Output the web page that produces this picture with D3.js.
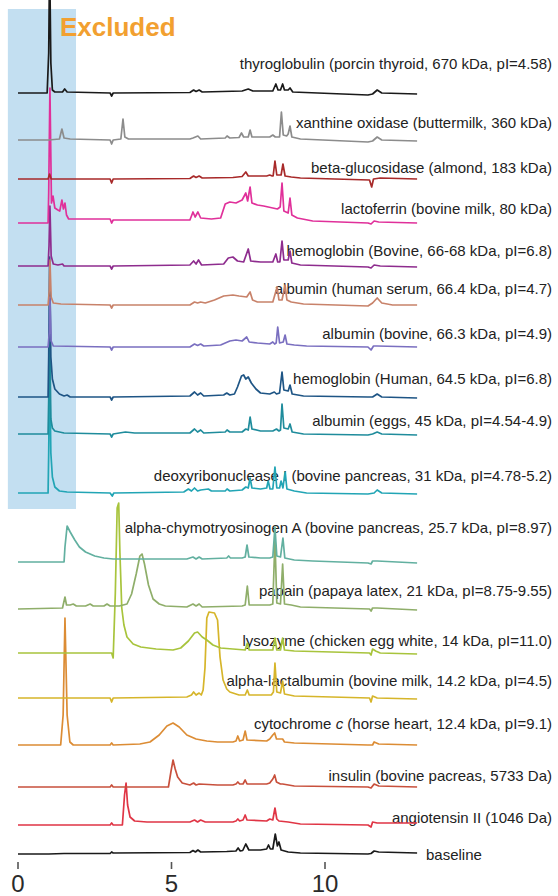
<!DOCTYPE html>
<html><head><meta charset="utf-8">
<script src="https://cdn.jsdelivr.net/npm/d3@7"></script>
<style>html,body{margin:0;padding:0;background:#fff;} svg{display:block;}</style>
</head><body>
<svg id="c" width="558" height="896"></svg>
<script>
// ---------------- DATA ----------------
const names = [
  "thyroglobulin (porcin thyroid, 670 kDa, pI=4.58)",
  "xanthine oxidase (buttermilk, 360 kDa)",
  "beta-glucosidase (almond, 183 kDa)",
  "lactoferrin (bovine milk, 80 kDa)",
  "hemoglobin (Bovine, 66-68 kDa, pI=6.8)",
  "albumin (human serum, 66.4 kDa, pI=4.7)",
  "albumin (bovine, 66.3 kDa, pI=4.9)",
  "hemoglobin (Human, 64.5 kDa, pI=6.8)",
  "albumin (eggs, 45 kDa, pI=4.54-4.9)",
  "deoxyribonuclease I (bovine pancreas, 31 kDa, pI=4.78-5.2)",
  "alpha-chymotryosinogen A (bovine pancreas, 25.7 kDa, pI=8.97)",
  "papain (papaya latex, 21 kDa, pI=8.75-9.55)",
  "lysozyme (chicken egg white, 14 kDa, pI=11.0)",
  "alpha-lactalbumin (bovine milk, 14.2 kDa, pI=4.5)",
  "cytochrome c (horse heart, 12.4 kDa, pI=9.1)",
  "insulin (bovine pacreas, 5733 Da)",
  "angiotensin II (1046 Da)",
  "baseline"
];
// vertical stacking offset of each chromatogram (signal units)
const offsets = [761, 714, 675, 631, 588, 549, 507, 457, 420, 361, 292, 245, 201, 156, 109, 67, 29, 0];

// each chromatogram: [retention time, signal]
const thyroglobulin = [[0,0],[0.95,0],[1.0,40],[1.03,135],[1.07,30],[1.12,3],[1.2,1],[1.45,1],[1.52,4],[1.6,1],[3.0,0],[3.05,-3],[3.1,0],[5.6,0.5],[5.72,3],[5.8,1.5],[5.9,3],[6.0,1],[7.3,2],[7.5,4],[7.65,2],[8.3,2],[8.4,9],[8.47,3],[8.55,3],[8.62,9],[8.68,3],[8.8,3],[8.86,5],[8.95,1],[11.4,-2],[11.55,-1],[11.7,3],[11.85,0],[13,-1]];
const xanthineOxidase = [[0,0],[1.0,0],[1.35,1],[1.43,11],[1.5,2],[1.7,1],[3.0,0],[3.05,-4],[3.1,0],[3.35,1],[3.42,21],[3.48,3],[3.6,1],[5.6,1],[5.7,2],[5.86,4],[5.95,1],[6.75,2],[6.81,4],[6.9,2],[7.2,2.5],[7.28,7],[7.35,3],[7.5,3],[7.56,10],[7.62,3],[8.2,3],[8.3,5],[8.38,3],[8.52,3],[8.58,28],[8.64,5],[8.75,4],[8.8,6],[8.86,14],[8.92,3],[9.2,1],[11.4,-2],[11.55,-1],[11.7,3],[11.85,0],[13,-1]];
const betaGlucosidase = [[0,0],[0.98,0],[1.03,5],[1.08,0],[3.0,0],[3.05,-4],[3.1,0],[5.6,0.5],[5.72,3],[5.8,1.5],[5.9,3],[6.0,1],[7.0,1.5],[7.3,2.5],[7.42,7],[7.5,3],[8.1,3],[8.2,4],[8.28,3],[8.31,3],[8.37,18],[8.43,4],[8.57,4],[8.63,15],[8.7,3],[8.9,2],[9.2,1],[11.45,-1],[11.52,-8],[11.58,0],[11.8,1],[13,0]];
const lactoferrin = [[0,0],[0.98,0],[1.0,30],[1.04,135],[1.09,20],[1.14,27],[1.2,15],[1.3,13],[1.36,12],[1.43,23],[1.48,14],[1.53,20],[1.58,8],[1.65,4],[3.0,4],[3.05,0],[3.1,3],[5.6,3],[5.7,11],[5.77,6],[5.86,11],[5.95,5],[6.3,4],[6.6,5],[6.75,19],[6.9,21],[7.1,20],[7.3,23],[7.42,30],[7.48,22],[7.56,36],[7.62,20],[7.8,18],[8.0,17],[8.3,15],[8.45,14],[8.54,16],[8.6,40],[8.66,12],[8.8,10],[8.86,25],[8.92,8],[9.1,5],[9.6,2],[11.4,0],[11.5,-1],[11.6,2],[11.75,1],[13,0]];
const hemoglobinBovine = [[0,0],[0.98,0],[1.01,20],[1.04,60],[1.08,10],[1.15,2],[1.3,1],[1.45,2],[1.5,0],[3.0,0],[3.05,-3],[3.1,0],[5.6,1],[5.72,5],[5.8,2],[5.88,6],[5.98,1],[6.7,2],[6.85,8],[7.0,9],[7.15,5],[7.35,4],[7.5,17],[7.58,5],[7.9,4],[8.3,4],[8.4,12],[8.46,4],[8.53,4],[8.6,25],[8.66,6],[8.8,6],[8.86,15],[8.92,3],[9.2,1],[11.4,-1],[11.5,-2],[11.6,1],[11.8,0],[13,-1]];
const albuminHuman = [[0,0],[0.98,0],[1.02,15],[1.04,45],[1.08,8],[1.15,2],[1.4,1],[3.0,0],[3.05,-3],[3.1,0],[5.6,0],[5.75,3],[5.85,2],[5.95,3],[6.1,2],[6.4,5],[6.7,9],[7.0,10],[7.2,9],[7.45,8],[7.56,13],[7.64,5],[7.8,3],[8.3,3],[8.44,18],[8.5,5],[8.6,5],[8.7,20],[8.76,5],[8.9,3],[9.3,1],[11.4,-1],[11.55,2],[11.7,7],[11.85,2],[12.2,0],[13,0]];
const albuminBovine = [[0,0],[0.98,0],[1.02,15],[1.04,50],[1.08,6],[1.15,1],[3.0,0],[3.05,-3],[3.1,0],[5.6,0],[5.75,3],[5.85,1.5],[5.95,3],[6.05,1],[6.6,2],[6.9,6],[7.1,7],[7.3,6],[7.45,10],[7.53,5],[7.8,4],[8.2,3],[8.3,5],[8.36,3],[8.41,4],[8.46,20],[8.52,4],[8.64,5],[8.7,12],[8.76,3],[9.0,2],[9.4,1],[11.4,0],[11.5,-3],[11.58,1],[11.7,1],[13,0]];
const hemoglobinHuman = [[0,0],[0.98,0],[1.0,40],[1.03,140],[1.07,40],[1.12,18],[1.2,8],[1.35,3],[1.5,1],[1.6,2],[1.7,0],[3.0,0],[3.05,-3],[3.1,0],[5.6,1],[5.75,5],[5.85,2],[5.95,4],[6.05,1],[6.7,2],[6.8,4],[6.9,2],[7.05,3],[7.15,10],[7.28,21],[7.35,22],[7.42,18],[7.5,20],[7.6,14],[7.75,8],[7.9,4],[8.2,3],[8.35,5],[8.42,3],[8.52,4],[8.6,25],[8.66,7],[8.8,6],[8.86,12],[8.93,3],[9.3,1],[11.4,0],[11.55,0],[11.7,3],[11.85,0],[13,-1]];
const albuminEggs = [[0,0],[0.98,0],[1.0,35],[1.03,110],[1.07,15],[1.12,6],[1.2,3],[1.5,1],[3.0,0],[3.05,-3],[3.1,0],[3.3,1],[3.5,2],[3.8,1],[5.6,1],[5.75,5],[5.85,2],[5.95,4],[6.05,1],[6.75,2],[6.81,4],[6.9,2],[7.3,2],[7.42,5],[7.5,4],[7.56,17],[7.62,5],[7.9,3],[8.3,3],[8.42,5],[8.5,3],[8.55,4],[8.6,30],[8.66,6],[8.8,5],[8.86,10],[8.93,2],[9.3,0],[11.4,-1],[11.55,0],[11.7,2],[11.85,0],[13,-1]];
const deoxyribonuclease = [[0,0],[0.98,0],[1.0,40],[1.03,130],[1.07,40],[1.12,16],[1.2,6],[1.35,2],[1.6,1],[3.0,0],[3.07,-3],[3.12,0],[5.4,1],[5.55,4],[5.65,2],[5.75,5],[5.85,2],[5.95,3],[6.2,4],[6.3,2],[6.75,2],[6.81,4],[6.9,2],[7.3,3],[7.42,6],[7.5,5],[7.56,15],[7.62,5],[7.9,4],[8.1,5],[8.15,12],[8.21,4],[8.3,4],[8.37,26],[8.43,5],[8.52,5],[8.57,12],[8.63,5],[8.7,21],[8.76,4],[9.0,2],[9.4,0],[11.4,-1],[11.6,0],[11.7,3],[11.85,0],[13,-1]];
const chymotrypsinogen = [[0,0],[1.5,0],[1.53,15],[1.6,36],[1.7,30],[1.85,22],[2.0,15],[2.2,10],[2.5,6],[2.8,4],[3.1,3],[3.5,3],[5.5,3],[5.7,5],[5.8,3],[5.9,5],[6.0,3],[6.8,4],[6.86,6],[6.92,4],[7.3,4],[7.4,5],[7.46,17],[7.52,5],[7.9,4],[8.2,4],[8.3,5],[8.37,35],[8.43,6],[8.55,5],[8.63,24],[8.69,4],[9.0,2],[9.6,1],[11.4,-1],[11.5,-2],[11.55,1],[11.7,1],[13,-1]];
const papain = [[0,0],[1.45,1],[1.53,12],[1.58,4],[1.7,4],[1.8,5],[1.9,3],[2.2,3],[2.35,5],[2.45,3],[2.8,3],[2.9,5],[3.0,3],[3.3,3],[3.55,5],[3.7,15],[3.85,35],[3.97,53],[4.04,55],[4.12,45],[4.25,24],[4.4,10],[4.6,5],[4.8,3],[5.5,2],[5.7,5],[5.8,3],[5.9,5],[6.0,2],[7.3,3],[7.4,4],[7.47,23],[7.53,4],[8.2,4],[8.3,5],[8.37,70],[8.43,6],[8.55,5],[8.62,45],[8.68,5],[8.9,4],[9.2,2],[11.45,0],[11.5,-2],[11.55,1],[11.7,1],[13,-1]];
const lysozyme = [[0,0],[3.05,0],[3.1,-5],[3.17,60],[3.23,145],[3.28,150],[3.32,100],[3.38,45],[3.45,28],[3.55,16],[3.75,9],[4.0,6],[4.5,4],[5.05,3],[5.3,5],[5.55,12],[5.75,20],[5.85,21],[6.0,16],[6.15,13],[6.35,8],[6.6,5],[7.0,4],[7.4,3],[7.47,10],[7.53,3],[8.3,3],[8.37,15],[8.43,3],[8.55,3],[8.62,15],[8.68,3],[9.0,2],[11.45,0],[11.5,-2],[11.55,4],[11.65,2],[11.8,0],[13,-1]];
const alphaLactalbumin = [[0,0],[3.0,0],[3.05,-4],[3.1,0],[5.5,1],[5.65,3],[5.72,6],[5.8,3],[5.9,5],[5.97,3],[6.03,8],[6.09,30],[6.15,80],[6.22,86],[6.4,85],[6.5,78],[6.58,41],[6.68,18],[6.8,9],[6.9,6],[7.2,3],[7.4,3],[7.47,8],[7.53,3],[8.25,3],[8.32,6],[8.37,35],[8.43,6],[8.55,5],[8.62,17],[8.68,4],[9.0,2],[11.45,0],[11.5,-4],[11.55,2],[11.7,0],[13,-1]];
const cytochromeC = [[0,0],[1.39,0],[1.47,30],[1.53,127],[1.6,30],[1.69,3],[1.8,0],[3.0,0],[3.05,2],[3.1,0],[3.97,1],[4.3,3],[4.6,10],[4.85,19],[5.05,22],[5.25,18],[5.5,10],[5.8,6],[6.15,4],[6.5,3],[7.0,3],[7.1,4],[7.16,9],[7.22,4],[7.33,5],[7.4,14],[7.46,5],[8.1,4],[8.2,6],[8.3,10],[8.36,12],[8.42,6],[8.62,6],[8.68,3],[9.0,2],[11.4,0],[11.55,0],[11.6,3],[11.75,1],[13,0]];
const insulin = [[0,0],[3.0,0],[3.05,2],[3.1,0],[4.9,0],[4.98,15],[5.05,27],[5.12,18],[5.2,10],[5.35,4],[5.6,2],[5.72,4],[5.8,2],[5.9,3],[6.5,2],[7.0,2],[7.1,3],[7.16,5],[7.22,3],[7.33,3],[7.4,7],[7.46,3],[8.1,3],[8.2,4],[8.3,8],[8.36,12],[8.42,5],[8.55,3],[8.62,3],[9.0,1],[11.4,0],[11.5,-1],[11.6,3],[11.75,1],[13,0]];
const angiotensin = [[0,0],[3.0,0],[3.05,2],[3.1,0],[3.4,0],[3.47,30],[3.52,42],[3.57,20],[3.65,8],[3.8,4],[4.2,3],[5.6,3],[5.75,5],[5.85,3],[5.95,5],[6.1,3],[7.0,3],[7.1,4],[7.16,6],[7.22,4],[7.33,5],[7.4,10],[7.46,5],[8.1,4],[8.2,6],[8.3,5],[8.37,17],[8.43,6],[8.5,4],[8.8,3],[9.2,1],[11.4,0],[11.5,-2],[11.55,3],[11.7,2],[13,2]];
const baseline = [[0,0],[1.0,0],[1.5,0.5],[3.0,0.5],[3.05,2],[3.1,1],[5.6,1.5],[5.7,3.5],[5.78,2],[5.86,4],[5.95,2],[6.8,2.5],[7.1,3],[7.17,6],[7.24,3],[7.32,3.5],[7.42,10],[7.52,4],[7.9,4],[8.1,5],[8.16,9],[8.22,5],[8.3,5],[8.38,20],[8.45,8],[8.5,12],[8.57,4],[8.8,2],[9.2,1],[11.4,0],[11.5,0.5],[11.6,3],[11.75,2],[13,1]];

const traces = [thyroglobulin, xanthineOxidase, betaGlucosidase, lactoferrin, hemoglobinBovine,
  albuminHuman, albuminBovine, hemoglobinHuman, albuminEggs, deoxyribonuclease, chymotrypsinogen,
  papain, lysozyme, alphaLactalbumin, cytochromeC, insulin, angiotensin, baseline];

const xTicks = [0, 5, 10];
const excludedX = [-0.33, 1.89];   // retention-time window shaded as excluded
const excludedY = [345, 845];
const excludedText = "Excluded";

// ---------------- STYLE / LAYOUT ----------------
const colors = ["#1a1a1a","#8c8c8c","#a82a2a","#e0309a","#8e2c8e","#c8826a","#7a6fc0","#1e5585",
  "#1f8c9c","#22a5b5","#62b0a0","#8fae6a","#a8c43c","#d6b52a","#dc8c34","#c8503c","#e03545","#1a1a1a"];
const labelGap = [30,18,12,15,16,17,14,19,14,18,35,19,13,18,22,12,8,0];

const svg = d3.select("#c");
const x = d3.scaleLinear().domain([0, 10]).range([18, 325]);
const y = d3.scaleLinear().domain([0, 854]).range([854, 0]);

// excluded region
svg.append("rect")
  .attr("x", x(excludedX[0])).attr("width", x(excludedX[1]) - x(excludedX[0]))
  .attr("y", y(excludedY[1])).attr("height", y(excludedY[0]) - y(excludedY[1]))
  .attr("fill", "#c3dff1");
svg.append("text")
  .attr("x", 60).attr("y", 36)
  .attr("font-family", "Liberation Sans, Arial, sans-serif")
  .attr("font-weight", "bold").attr("font-size", 26)
  .attr("fill", "#f2a030").text(excludedText);

// labels
const font = "Liberation Sans, Arial, Helvetica, sans-serif";
names.forEach((n, i) => {
  const last = i === names.length - 1;
  const t = svg.append("text")
    .attr("x", last ? 426 : 552)
    .attr("y", y(offsets[i]) - labelGap[i])
    .attr("dominant-baseline", "central")
    .attr("text-anchor", last ? "start" : "end")
    .attr("font-family", font).attr("font-size", 15)
    .attr("fill", "#222");
  if (n.startsWith("cytochrome c ")) {
    t.append("tspan").text("cytochrome ");
    t.append("tspan").attr("font-style", "italic").text("c");
    t.append("tspan").text(n.slice("cytochrome c".length));
  } else t.text(n);
});

// traces (bottom first so upper traces overlay)
const line = d3.line();
for (let i = traces.length - 1; i >= 0; i--) {
  const off = offsets[i];
  line.x(d => x(d[0])).y(d => y(off + d[1]));
  svg.append("path")
    .attr("d", line(traces[i]))
    .attr("fill", "none")
    .attr("stroke", colors[i])
    .attr("stroke-width", 1.7)
    .attr("stroke-linejoin", "round");
}

// x axis (ticks only)
const ax = svg.append("g");
xTicks.forEach(v => {
  ax.append("line").attr("x1", x(v)).attr("x2", x(v)).attr("y1", 862).attr("y2", 869)
    .attr("stroke", "#555").attr("stroke-width", 1.6);
  ax.append("text").attr("x", x(v)).attr("y", 892).attr("text-anchor", "middle")
    .attr("font-family", font).attr("font-size", 24).attr("fill", "#2a2a2a").text(v);
});
</script>
</body></html>
